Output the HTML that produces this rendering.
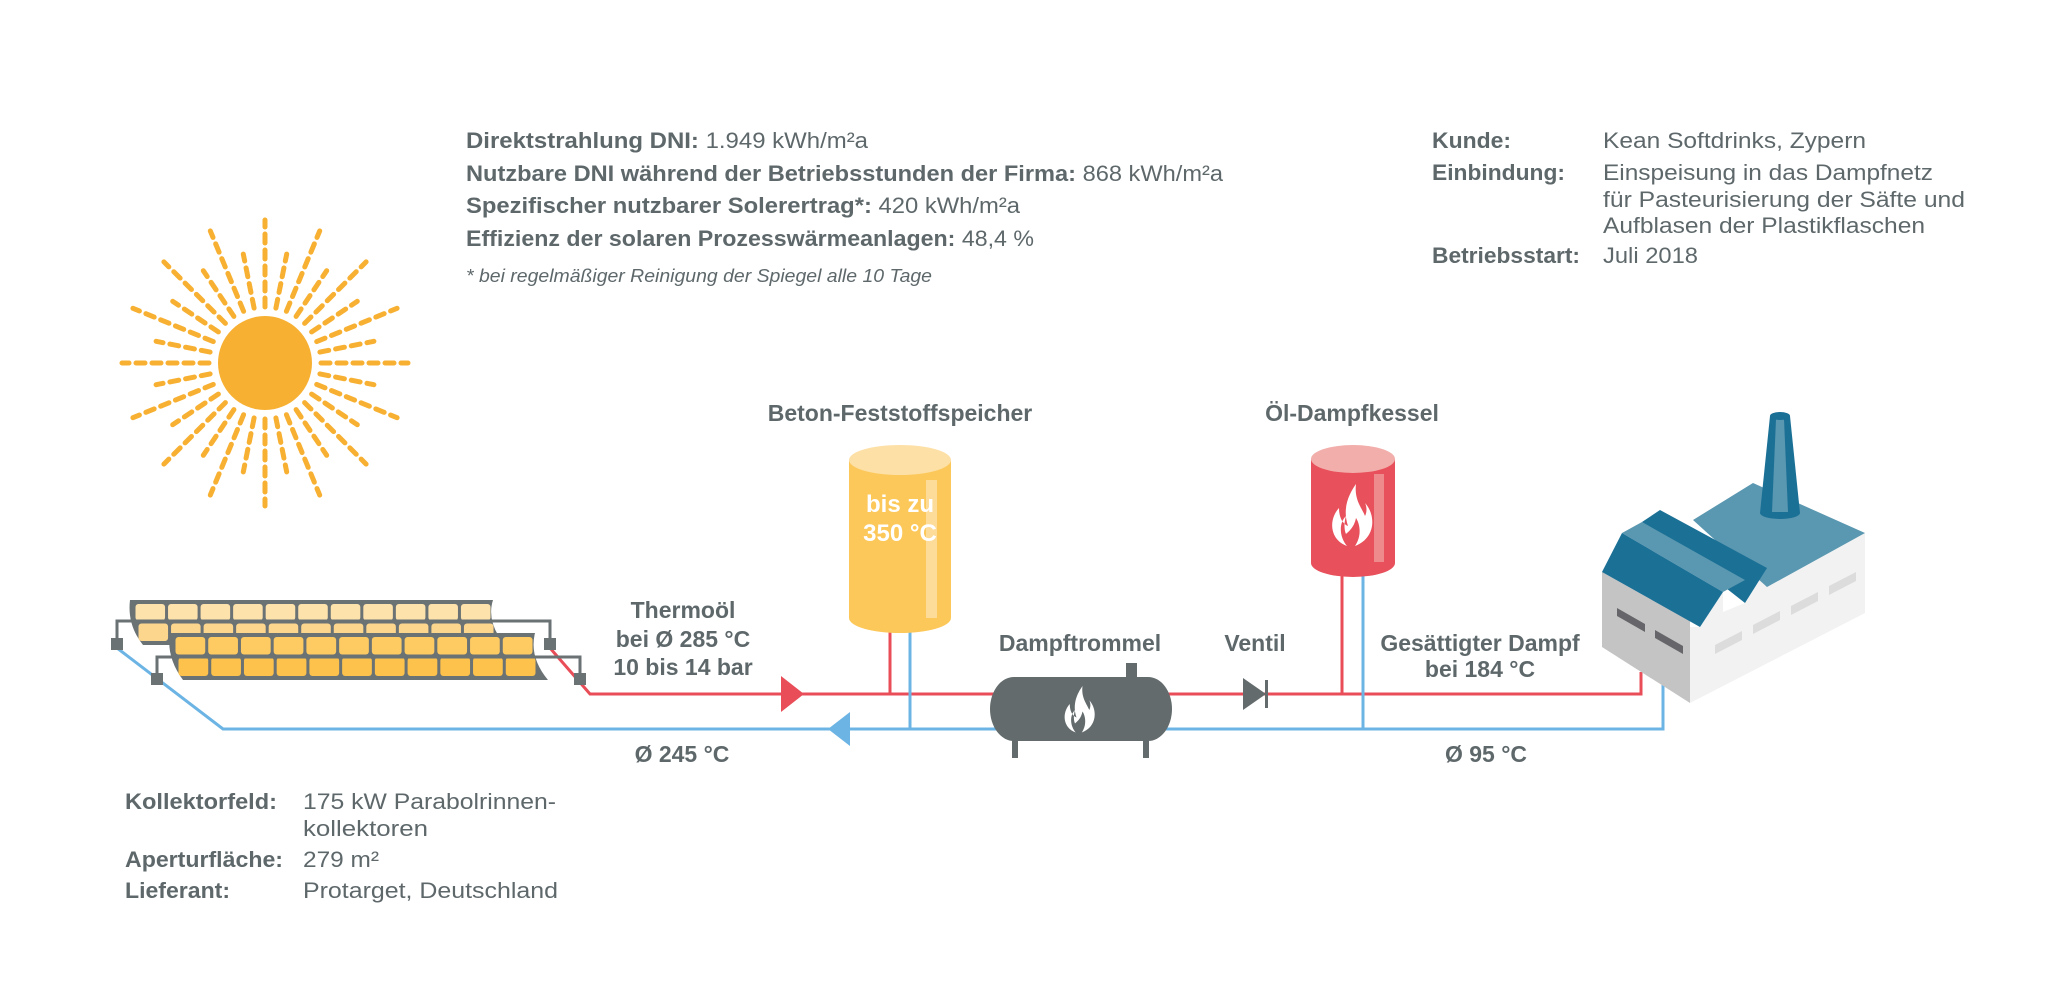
<!DOCTYPE html>
<html><head><meta charset="utf-8">
<style>
html,body{margin:0;padding:0;background:#fff;}
svg{display:block;}
text{font-family:"Liberation Sans",Arial,sans-serif;fill:#5E686B;}
.b{font-weight:bold;}
</style></head>
<body>
<svg id="s" width="2048" height="987" viewBox="0 0 2048 987" xmlns="http://www.w3.org/2000/svg">
<defs>
<path id="flame" d="M-3,30 C-20,24 -22,4 -11,-8 C-11,2 -7,8 -2,10 C-8,-8 -1,-22 6,-32 C4,-16 12,-8 15,0 C17,-4 17,-9 15,-13 C26,-1 26,22 5,30 C12,20 10,8 6,2 C4,12 -2,16 -4,18 C-6,14 -6,6 -4,0 C-12,8 -10,22 -3,30 Z" fill="#fff"/>
</defs>

<!-- Sun -->
<g id="sun" stroke="#F7B031" stroke-width="5" stroke-linecap="round" stroke-dasharray="9 7" fill="none"></g>
<circle cx="265" cy="363" r="47" fill="#F7B031"/>

<!-- top info text -->
<text x="466" y="148" font-size="22.5" textLength="402" lengthAdjust="spacingAndGlyphs"><tspan class="b">Direktstrahlung DNI:</tspan> 1.949 kWh/m²a</text>
<text x="466" y="181" font-size="22.5" textLength="757" lengthAdjust="spacingAndGlyphs"><tspan class="b">Nutzbare DNI während der Betriebsstunden der Firma:</tspan> 868 kWh/m²a</text>
<text x="466" y="213" font-size="22.5" textLength="554" lengthAdjust="spacingAndGlyphs"><tspan class="b">Spezifischer nutzbarer Solerertrag*:</tspan> 420 kWh/m²a</text>
<text x="466" y="246" font-size="22.5" textLength="568" lengthAdjust="spacingAndGlyphs"><tspan class="b">Effizienz der solaren Prozesswärmeanlagen:</tspan> 48,4 %</text>
<text x="466" y="282" font-size="18" font-style="italic" textLength="466" lengthAdjust="spacingAndGlyphs">* bei regelmäßiger Reinigung der Spiegel alle 10 Tage</text>

<text x="1432" y="148" font-size="22.5" class="b" textLength="79" lengthAdjust="spacingAndGlyphs">Kunde:</text>
<text x="1603" y="148" font-size="22.5" textLength="263" lengthAdjust="spacingAndGlyphs">Kean Softdrinks, Zypern</text>
<text x="1432" y="180" font-size="22.5" class="b" textLength="133" lengthAdjust="spacingAndGlyphs">Einbindung:</text>
<text x="1603" y="180" font-size="22.5" textLength="330" lengthAdjust="spacingAndGlyphs">Einspeisung in das Dampfnetz</text>
<text x="1603" y="207" font-size="22.5" textLength="362" lengthAdjust="spacingAndGlyphs">für Pasteurisierung der Säfte und</text>
<text x="1603" y="233" font-size="22.5" textLength="322" lengthAdjust="spacingAndGlyphs">Aufblasen der Plastikflaschen</text>
<text x="1432" y="263" font-size="22.5" class="b" textLength="148" lengthAdjust="spacingAndGlyphs">Betriebsstart:</text>
<text x="1603" y="263" font-size="22.5" textLength="95" lengthAdjust="spacingAndGlyphs">Juli 2018</text>

<!-- bottom left info -->
<text x="125" y="809" font-size="22.5" class="b" textLength="152" lengthAdjust="spacingAndGlyphs">Kollektorfeld:</text>
<text x="303" y="809" font-size="22.5" textLength="253" lengthAdjust="spacingAndGlyphs">175 kW Parabolrinnen-</text>
<text x="303" y="836" font-size="22.5" textLength="125" lengthAdjust="spacingAndGlyphs">kollektoren</text>
<text x="125" y="867" font-size="22.5" class="b" textLength="158" lengthAdjust="spacingAndGlyphs">Aperturfläche:</text>
<text x="303" y="867" font-size="22.5" textLength="76" lengthAdjust="spacingAndGlyphs">279 m²</text>
<text x="125" y="898" font-size="22.5" class="b" textLength="105" lengthAdjust="spacingAndGlyphs">Lieferant:</text>
<text x="303" y="898" font-size="22.5" textLength="255" lengthAdjust="spacingAndGlyphs">Protarget, Deutschland</text>

<!-- pipes -->
<polyline points="550,648 590,694 1641,694 1641,672" fill="none" stroke="#E84D58" stroke-width="3"/>
<polyline points="117,648 223,729 1663,729 1663,673" fill="none" stroke="#6CB4E4" stroke-width="3"/>
<line x1="890" y1="620" x2="890" y2="694" stroke="#E84D58" stroke-width="3"/>
<line x1="910" y1="620" x2="910" y2="729" stroke="#6CB4E4" stroke-width="3"/>
<line x1="1342" y1="570" x2="1342" y2="694" stroke="#E84D58" stroke-width="3"/>
<line x1="1363" y1="570" x2="1363" y2="729" stroke="#6CB4E4" stroke-width="3"/>
<polygon points="781,676 804,694 781,712" fill="#E84D58"/>
<polygon points="828,729 850,712 850,746" fill="#6CB4E4"/>

<!-- collectors -->
<path d="M130,600 L493,600 Q486,622 505,645 L143,645 Q127,625 130,600 Z" fill="#6B7274"/>
<g id="up"></g>
<polyline points="117,642 117,621 550,621 550,642" fill="none" stroke="#6B7274" stroke-width="3"/>
<rect x="111" y="638" width="12" height="12" fill="#6B7274"/>
<rect x="544" y="638" width="12" height="12" fill="#6B7274"/>
<path d="M170,633 L535,633 Q529,657 548,680 L183,680 Q166,657 170,633 Z" fill="#6B7274"/>
<g id="lo"></g>
<polyline points="157,677 157,657 580,657 580,677" fill="none" stroke="#6B7274" stroke-width="3"/>
<rect x="151" y="673" width="12" height="12" fill="#6B7274"/>
<rect x="574" y="673" width="12" height="12" fill="#6B7274"/>

<!-- labels -->
<text x="683" y="618" font-size="23" class="b" text-anchor="middle">Thermoöl</text>
<text x="683" y="647" font-size="23" class="b" text-anchor="middle">bei Ø 285 °C</text>
<text x="683" y="675" font-size="23" class="b" text-anchor="middle">10 bis 14 bar</text>
<text x="682" y="762" font-size="23" class="b" text-anchor="middle">Ø 245 °C</text>
<text x="1486" y="762" font-size="23" class="b" text-anchor="middle">Ø 95 °C</text>
<text x="900" y="421" font-size="23" class="b" text-anchor="middle">Beton-Feststoffspeicher</text>
<text x="1352" y="421" font-size="23" class="b" text-anchor="middle">Öl-Dampfkessel</text>
<text x="1080" y="651" font-size="23" class="b" text-anchor="middle">Dampftrommel</text>
<text x="1255" y="651" font-size="23" class="b" text-anchor="middle">Ventil</text>
<text x="1480" y="651" font-size="23" class="b" text-anchor="middle">Gesättigter Dampf</text>
<text x="1480" y="677" font-size="23" class="b" text-anchor="middle">bei 184 °C</text>

<!-- yellow tank -->
<path d="M849,460 L849,618 A51,15 0 0 0 951,618 L951,460 Z" fill="#FCC85A"/>
<ellipse cx="900" cy="460" rx="51" ry="15" fill="#FDE0A6"/>
<rect x="926" y="480" width="11" height="138" fill="#FDDC9A"/>
<text x="900" y="512" font-size="24" class="b" text-anchor="middle" style="fill:#fff">bis zu</text>
<text x="900" y="541" font-size="24" class="b" text-anchor="middle" style="fill:#fff">350 °C</text>

<!-- red tank -->
<path d="M1311,459 L1311,563 A42,14 0 0 0 1395,563 L1395,459 Z" fill="#E8505B"/>
<ellipse cx="1353" cy="459" rx="42" ry="14" fill="#F2AEAB"/>
<rect x="1374" y="474" width="10" height="88" fill="#EE8A8C"/>
<use href="#flame" transform="translate(1350,516) scale(1.0)"/>

<!-- drum -->
<rect x="1126" y="663" width="11" height="18" fill="#636B6C"/>
<rect x="1012" y="735" width="6" height="23" fill="#636B6C"/>
<rect x="1143" y="735" width="6" height="23" fill="#636B6C"/>
<rect x="990" y="677" width="182" height="64" rx="24" ry="32" fill="#636B6C"/>
<use href="#flame" transform="translate(1078,710) scale(0.75)"/>

<!-- valve -->
<polygon points="1243,678 1266,694 1243,710" fill="#636B6C"/>
<rect x="1265" y="680" width="3" height="28" fill="#636B6C"/>

<!-- factory -->
<polygon points="1602,572 1690,621 1690,703 1602,647" fill="#C4C4C4"/>
<polygon points="1690,627 1700,627 1723,592 1723,612 1745,603 1767,568 1767,587 1865,533 1865,613 1690,703" fill="#F2F2F2"/>
<polygon points="1693,520 1753,483 1865,533 1767,587" fill="#5A97B0"/>
<polygon points="1642,522 1660,510 1767,568 1745,603" fill="#1B7096"/>
<polygon points="1622,533 1642,522 1745,580 1723,592" fill="#5A97B0"/>
<polygon points="1602,572 1622,533 1723,592 1700,627" fill="#1B7096"/>
<polygon points="1617,608 1645,624 1645,632 1617,616" fill="#66666A"/>
<polygon points="1655,630 1683,646 1683,654 1655,638" fill="#66666A"/>
<polygon points="1715,645 1742,631 1742,640 1715,654" fill="#DCDCDC"/>
<polygon points="1753,625 1780,611 1780,620 1753,634" fill="#DCDCDC"/>
<polygon points="1791,606 1818,592 1818,601 1791,615" fill="#DCDCDC"/>
<polygon points="1829,586 1856,572 1856,581 1829,595" fill="#DCDCDC"/>
<path d="M1770,416 L1760,513 A20,6 0 0 0 1800,513 L1790,416 Z" fill="#1B7096"/>
<path d="M1776,419 L1772,512 L1788,512 L1784,419 Z" fill="#5A97B0"/>
<ellipse cx="1780" cy="416" rx="10" ry="4" fill="#1B7096"/>
</svg>
<script>
(function(){
var ns="http://www.w3.org/2000/svg";
var sun=document.getElementById("sun");
for(var i=0;i<32;i++){
 var a=i*Math.PI/16, r0=56, r1=(i%2==0)?143:111;
 var l=document.createElementNS(ns,"line");
 l.setAttribute("x1",(265+r0*Math.cos(a)).toFixed(1));
 l.setAttribute("y1",(363+r0*Math.sin(a)).toFixed(1));
 l.setAttribute("x2",(265+r1*Math.cos(a)).toFixed(1));
 l.setAttribute("y2",(363+r1*Math.sin(a)).toFixed(1));
 sun.appendChild(l);
}
function panels(g,x0,x1,y0,ym,y1,c1,c2){
 var n=11,w=(x1-x0)/n;
 for(var i=0;i<n;i++){
  var r=document.createElementNS(ns,"rect");
  r.setAttribute("x",x0+i*w+1.5);r.setAttribute("y",y0);
  r.setAttribute("width",w-3);r.setAttribute("height",ym-y0-1.5);
  r.setAttribute("rx",3);r.setAttribute("fill",c1);g.appendChild(r);
  var q=document.createElementNS(ns,"rect");
  q.setAttribute("x",x0+i*w+1.5+3);q.setAttribute("y",ym+1.5);
  q.setAttribute("width",w-3);q.setAttribute("height",y1-ym-1.5);
  q.setAttribute("rx",3);q.setAttribute("fill",c2);g.appendChild(q);
 }
}
panels(document.getElementById("up"),134,492,604,622,641,"#FEE2AC","#FDD68E");
panels(document.getElementById("lo"),174,534,637,656,676,"#FDCB62","#FCC24C");
})();
</script>
</body></html>
